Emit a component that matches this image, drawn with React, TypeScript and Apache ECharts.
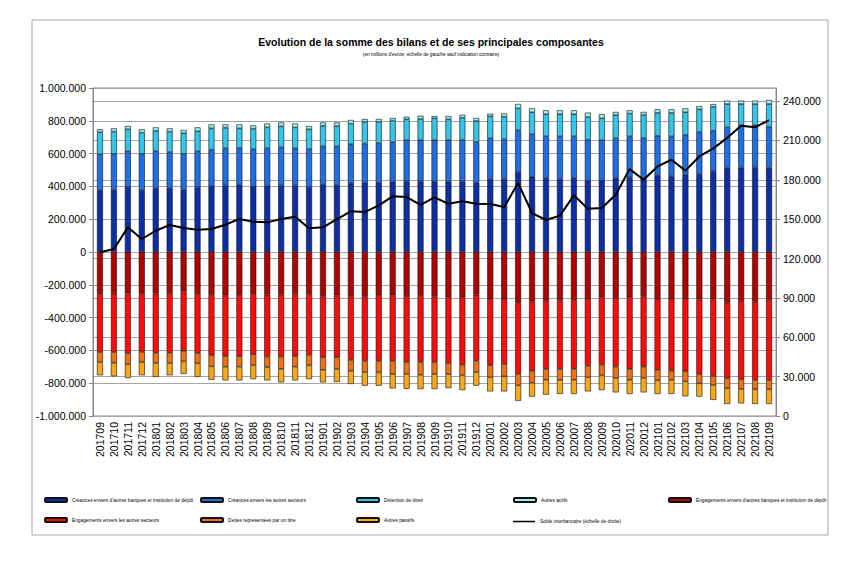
import React, { useEffect, useRef } from "react";
import * as echarts from "echarts";

const categories = [
  "201709","201710","201711","201712","201801","201802","201803","201804","201805","201806",
  "201807","201808","201809","201810","201811","201812","201901","201902","201903","201904",
  "201905","201906","201907","201908","201909","201910","201911","201912","202001","202002",
  "202003","202004","202005","202006","202007","202008","202009","202010","202011","202012",
  "202101","202102","202103","202104","202105","202106","202107","202108","202109",
];

const creancesBanques = [
  376000,378000,396000,378000,390000,390000,378000,396000,400000,406000,
  410000,398000,404000,406000,406000,396000,410000,409000,419000,423000,
  423000,429000,431000,431000,431000,429000,431000,423000,445000,445000,
  488000,459000,451000,445000,451000,435000,435000,451000,455000,451000,
  468000,463000,472000,474000,494000,514000,514000,516000,514000,
];
const creancesSecteurs = [
  220000,220000,218000,220000,224000,218000,220000,218000,224000,226000,
  224000,228000,228000,232000,226000,232000,234000,235000,238000,238000,
  240000,240000,250000,252000,250000,254000,254000,248000,248000,242000,
  254000,259000,254000,260000,254000,250000,246000,242000,250000,244000,
  241000,242000,242000,256000,246000,246000,260000,258000,250000,
];
const detentionTitres = [
  134000,136000,134000,130000,124000,126000,126000,122000,130000,126000,
  120000,126000,128000,128000,128000,120000,126000,124000,126000,132000,
  130000,132000,128000,128000,134000,126000,134000,128000,134000,138000,
  134000,134000,135000,135000,135000,138000,134000,142000,139000,140000,
  139000,143000,138000,140000,146000,142000,128000,128000,138000,
];
const autresActifs = [
  18000,20000,20000,20000,22000,20000,20000,24000,24000,20000,
  24000,20000,24000,24000,24000,20000,20000,22000,22000,18000,
  18000,16000,16000,20000,14000,20000,18000,18000,16000,20000,
  27000,24000,24000,24000,24000,27000,25000,19000,20000,19000,
  22000,22000,24000,20000,16000,21000,21000,21000,25000,
];
const engagementsBanques = [
  -256000,-256000,-252000,-252000,-254000,-248000,-240000,-256000,-262000,-264000,
  -262000,-256000,-260000,-260000,-256000,-256000,-272000,-264000,-272000,-272000,
  -264000,-264000,-268000,-268000,-272000,-276000,-276000,-260000,-285000,-285000,
  -311000,-301000,-297000,-293000,-293000,-285000,-276000,-281000,-276000,-272000,
  -285000,-285000,-285000,-289000,-289000,-309000,-297000,-303000,-293000,
];
const engagementsSecteurs = [
  -354000,-354000,-366000,-356000,-360000,-366000,-362000,-360000,-368000,-372000,
  -374000,-368000,-378000,-378000,-380000,-370000,-370000,-378000,-385000,-391000,
  -399000,-399000,-403000,-403000,-399000,-401000,-411000,-403000,-406000,-398000,
  -433000,-423000,-417000,-419000,-419000,-408000,-411000,-418000,-436000,-427000,
  -433000,-439000,-443000,-457000,-467000,-461000,-479000,-477000,-487000,
];
const dettesTitre = [
  -61000,-65000,-67000,-63000,-63000,-63000,-65000,-63000,-67000,-63000,
  -63000,-67000,-65000,-74000,-63000,-65000,-76000,-72000,-67000,-69000,
  -71000,-81000,-73000,-77000,-73000,-67000,-65000,-69000,-73000,-75000,
  -69000,-73000,-65000,-67000,-67000,-71000,-65000,-69000,-67000,-69000,
  -65000,-55000,-61000,-55000,-55000,-61000,-59000,-57000,-57000,
];
const autresPassifs = [
  -81000,-83000,-83000,-81000,-85000,-75000,-77000,-83000,-82000,-84000,
  -84000,-84000,-80000,-83000,-84000,-84000,-77000,-79000,-81000,-83000,
  -81000,-88000,-90000,-88000,-92000,-86000,-90000,-83000,-86000,-92000,
  -94000,-85000,-91000,-87000,-87000,-86000,-90000,-88000,-87000,-88000,
  -83000,-87000,-91000,-81000,-91000,-96000,-88000,-90000,-90000,
];
const soldeInterbancaire = [
  124800,127300,143800,134900,141200,145600,143300,142000,142500,145800,
  150200,148100,147600,150200,151900,143100,143800,150100,156000,155400,
  160500,167400,166900,161000,166700,161800,163600,161800,161600,159300,
  177500,154700,149400,152700,168200,158000,158500,168600,188200,180100,
  190200,195300,187000,197800,204000,212000,221300,220000,225500,
];

const seriesNames = [
  "Créances envers d'autres banques et institution de dépôt",
  "Créances envers les autres secteurs",
  "Détention de titres",
  "Autres actifs",
  "Engagements envers d'autres banques et institution de dépôt",
  "Engagements envers les autres secteurs",
  "Dettes représentées par un titre",
  "Autres passifs",
  "Solde interbancaire (échelle de droite)",
];
const seriesColors = [
  "#0c2fa6", "#1e6ee6", "#33c6ea", "#9cf0f2",
  "#b00000", "#ff0a0a", "#f07214", "#f8a818", "#000000",
];

function fmt(v: number): string {
  const s = String(Math.abs(Math.round(v))).replace(/\B(?=(\d{3})+(?!\d))/g, ".");
  return v < 0 ? "-" + s : s;
}

export default function App() {
  const ref = useRef<HTMLDivElement>(null);
  useEffect(() => {
    if (!ref.current) return;
    const chart = echarts.init(ref.current, undefined, { renderer: "svg" });
    const barData = [
      creancesBanques, creancesSecteurs, detentionTitres, autresActifs,
      engagementsBanques, engagementsSecteurs, dettesTitre, autresPassifs,
    ];
    const barSeries = barData.map((d, i) => ({
      name: seriesNames[i],
      type: "bar",
      stack: "total",
      data: d,
      barWidth: 6,
      itemStyle: { color: seriesColors[i], borderColor: "#111", borderWidth: 0.6 },
    }));
    const legendPos = [
      [44, 500], [200, 500], [356, 500], [513, 500], [668, 500],
      [44, 520], [200, 520], [356, 520], [513, 520],
    ];
    const font = "Liberation Sans";
    chart.setOption({
      animation: false,
      backgroundColor: "#ffffff",
      title: {
        text: "Evolution de la somme des bilans et de ses principales composantes",
        subtext: "(en millions d'euros; échelle de gauche sauf indication contraire)",
        left: "center",
        top: 31,
        itemGap: 5,
        textStyle: { fontFamily: font, fontWeight: "bold", fontSize: 10.5, color: "#000" },
        subtextStyle: { fontFamily: font, fontSize: 4.8, color: "#000" },
      },
      graphic: [
        {
          type: "rect",
          shape: { x: 32, y: 20, width: 796, height: 515 },
          style: { fill: "none", stroke: "#a6a6a6", lineWidth: 1 },
          silent: true,
        },
      ],
      legend: seriesNames.map((n, i) => ({
        data: i === 8 ? [{ name: n, icon: "rect" }] : [n],
        left: legendPos[i][0],
        top: legendPos[i][1] - (i === 8 ? 1 : 3),
        padding: 0,
        itemWidth: 22,
        itemHeight: i === 8 ? 1.5 : 4,
        textStyle: { fontFamily: font, fontSize: 4.8, color: "#000" },
        selectedMode: false,
      })),
      grid: {
        left: 93, right: 86, top: 88, bottom: 163,
        show: true, borderColor: "#8c8c8c", borderWidth: 1,
      },
      xAxis: {
        type: "category",
        data: categories,
        axisLine: { show: false, onZero: false },
        axisTick: { show: false },
        axisLabel: { rotate: 90, fontFamily: font, fontSize: 10.5, color: "#000", margin: 6, interval: 0 },
      },
      yAxis: [
        {
          type: "value",
          min: -1000000, max: 1000000, interval: 200000,
          axisLine: { show: true, lineStyle: { color: "#868686" } },
          axisTick: { show: true, length: 4, lineStyle: { color: "#868686" } },
          splitLine: { show: true, lineStyle: { color: "#a6a6a6", width: 1 } },
          axisLabel: { formatter: fmt, fontFamily: font, fontSize: 10.5, color: "#000", margin: 7 },
        },
        {
          type: "value",
          min: 0, max: 250000, interval: 30000,
          position: "right",
          axisLine: { show: true, lineStyle: { color: "#868686" } },
          axisTick: { show: true, length: 4, lineStyle: { color: "#868686" } },
          splitLine: { show: true, lineStyle: { color: "#a6a6a6", width: 1 } },
          axisLabel: { formatter: fmt, fontFamily: font, fontSize: 10.5, color: "#000", margin: 7, showMaxLabel: false },
        },
      ],
      series: [
        ...barSeries,
        {
          name: seriesNames[8],
          type: "line",
          yAxisIndex: 1,
          data: soldeInterbancaire,
          symbol: "none",
          lineStyle: { color: "#000", width: 2 },
          itemStyle: { color: "#000" },
          z: 5,
        },
      ],
    });
    return () => chart.dispose();
  }, []);
  return (
    <div
      ref={ref}
      style={{ position: "absolute", left: 0, top: 0, width: 862, height: 579 }}
    />
  );
}
